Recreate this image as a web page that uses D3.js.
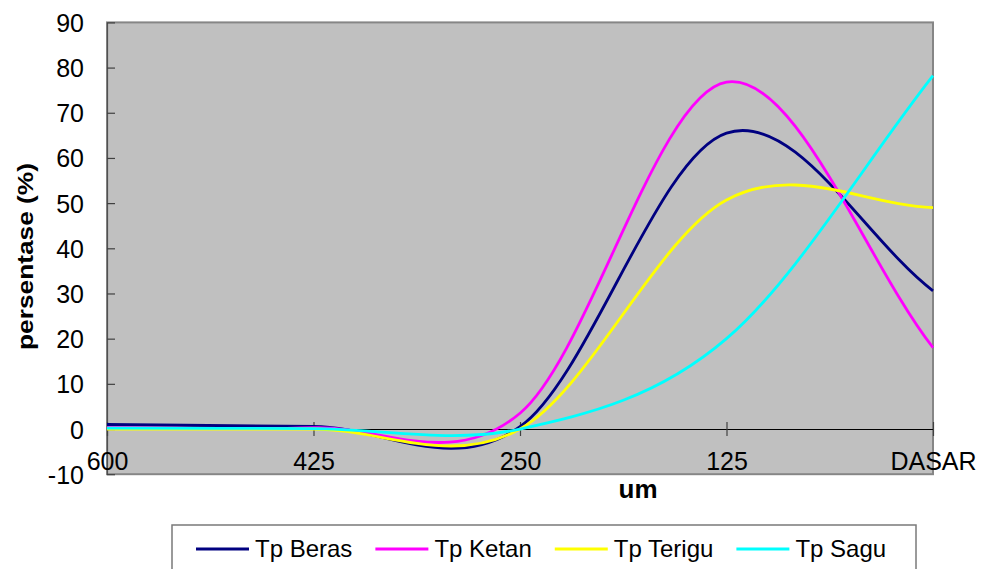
<!DOCTYPE html>
<html>
<head>
<meta charset="utf-8">
<script src="https://cdn.jsdelivr.net/npm/d3@7/dist/d3.min.js"></script>
<style>
  html, body { margin: 0; padding: 0; background: #ffffff; }
  svg { display: block; font-family: "Liberation Sans", Arial, sans-serif; }
</style>
</head>
<body>
<svg id="chart" width="981" height="569"></svg>
<script>
// ---- data ----
const categories = ["600", "425", "250", "125", "DASAR"];
const seriesNames = ["Tp Beras", "Tp Ketan", "Tp Terigu", "Tp Sagu"];
const tpBeras  = [1.0, 0.6, 0.5, 65.5, 30.6];
const tpKetan  = [0.3, 0.3, 3.5, 76.8, 18.0];
const tpTerigu = [0.0, 0.0, 0.0, 50.7, 49.0];
const tpSagu   = [0.2, 0.1, 0.0, 20.0, 78.2];
const yTicks = [-10, 0, 10, 20, 30, 40, 50, 60, 70, 80, 90];
const seriesColors = ["#000080", "#ff00ff", "#ffff00", "#00ffff"];
const seriesValues = [tpBeras, tpKetan, tpTerigu, tpSagu];

// ---- Excel-like smoothing curve (Bezier, 1/6 tangents, reflected end points) ----
function ExcelSmooth(context) { this._context = context; }
ExcelSmooth.prototype = {
  areaStart() { this._line = 0; },
  areaEnd() { this._line = NaN; },
  lineStart() { this._pts = []; },
  point(x, y) { this._pts.push([+x, +y]); },
  lineEnd() {
    const p = this._pts, n = p.length, c = this._context;
    if (!n) return;
    c.moveTo(p[0][0], p[0][1]);
    for (let i = 0; i < n - 1; i++) {
      const p1 = p[i], p2 = p[i + 1];
      const p0 = i > 0 ? p[i - 1] : [2 * p1[0] - p2[0], 2 * p1[1] - p2[1]];
      const p3 = i < n - 2 ? p[i + 2] : [2 * p2[0] - p1[0], 2 * p2[1] - p1[1]];
      c.bezierCurveTo(
        p1[0] + (p2[0] - p0[0]) / 6, p1[1] + (p2[1] - p0[1]) / 6,
        p2[0] - (p3[0] - p1[0]) / 6, p2[1] - (p3[1] - p1[1]) / 6,
        p2[0], p2[1]);
    }
  }
};
const curveExcel = ctx => new ExcelSmooth(ctx);

// ---- layout ----
const svg = d3.select("#chart");
const plot = { left: 107, right: 933, top: 22.4, bottom: 474.2 };
const x = d3.scalePoint().domain(categories).range([plot.left, plot.right]);
const y = d3.scaleLinear().domain([-10, 90]).range([plot.bottom, plot.top]);
const font = "'Liberation Sans', Arial, sans-serif";

// plot area
svg.append("rect")
  .attr("x", plot.left).attr("y", plot.top)
  .attr("width", plot.right - plot.left).attr("height", plot.bottom - plot.top)
  .attr("fill", "#c0c0c0").attr("stroke", "#868686").attr("stroke-width", 2);

// y axis (ticks inward)
const yAxis = d3.axisLeft(y).tickValues(yTicks).tickFormat(d => String(d))
  .tickSizeInner(-8).tickSizeOuter(0).tickPadding(23);
const gy = svg.append("g").attr("transform", `translate(${plot.left},0)`).call(yAxis);
gy.select(".domain").attr("stroke", "#505050").attr("stroke-width", 1.2);
gy.selectAll(".tick line").attr("stroke", "#404040").attr("stroke-width", 1.2);
gy.selectAll(".tick text").attr("font-family", font).attr("font-size", 25).attr("fill", "#000").attr("dy", "0.36em");

// x axis at y = 0, ticks crossing
const xAxis = d3.axisBottom(x).tickSizeInner(7).tickSizeOuter(0).tickPadding(0);
const gx = svg.append("g").attr("transform", `translate(0,${y(0)})`).call(xAxis);
gx.select(".domain").attr("stroke", "#000").attr("stroke-width", 1.2);
gx.selectAll(".tick line").attr("y1", -7).attr("y2", 7).attr("stroke", "#404040").attr("stroke-width", 1.2);
gx.selectAll(".tick text").attr("font-family", font).attr("font-size", 25).attr("fill", "#000")
  .attr("y", 470 - y(0)).attr("dy", 0);

// lines
const line = d3.line().x((d, i) => x(categories[i])).y(d => y(d)).curve(curveExcel);
seriesValues.forEach((vals, k) => {
  svg.append("path").datum(vals)
    .attr("d", line)
    .attr("fill", "none")
    .attr("stroke", seriesColors[k])
    .attr("stroke-width", 2.8)
    .attr("stroke-linejoin", "round");
});

// axis titles
svg.append("text")
  .attr("transform", `translate(33,256.5) rotate(-90)`)
  .attr("text-anchor", "middle")
  .attr("font-family", font).attr("font-weight", "bold").attr("font-size", 22)
  .attr("textLength", 187).attr("lengthAdjust", "spacingAndGlyphs")
  .text("persentase (%)");

svg.append("text")
  .attr("x", 638).attr("y", 498)
  .attr("text-anchor", "middle")
  .attr("font-family", font).attr("font-weight", "bold").attr("font-size", 26)
  .text("um");

// legend
const legend = svg.append("g");
legend.append("rect")
  .attr("x", 172).attr("y", 525).attr("width", 744).attr("height", 60)
  .attr("fill", "#fff").attr("stroke", "#7a7a7a").attr("stroke-width", 1.5);
let lx = 196;
seriesNames.forEach((name, k) => {
  legend.append("line")
    .attr("x1", lx).attr("x2", lx + 53).attr("y1", 549).attr("y2", 549)
    .attr("stroke", seriesColors[k]).attr("stroke-width", 2.8);
  const t = legend.append("text")
    .attr("x", lx + 59).attr("y", 557)
    .attr("font-family", font).attr("font-size", 24).attr("fill", "#000")
    .text(name);
  lx = lx + 59 + t.node().getComputedTextLength() + 23;
});
</script>
</body>
</html>
